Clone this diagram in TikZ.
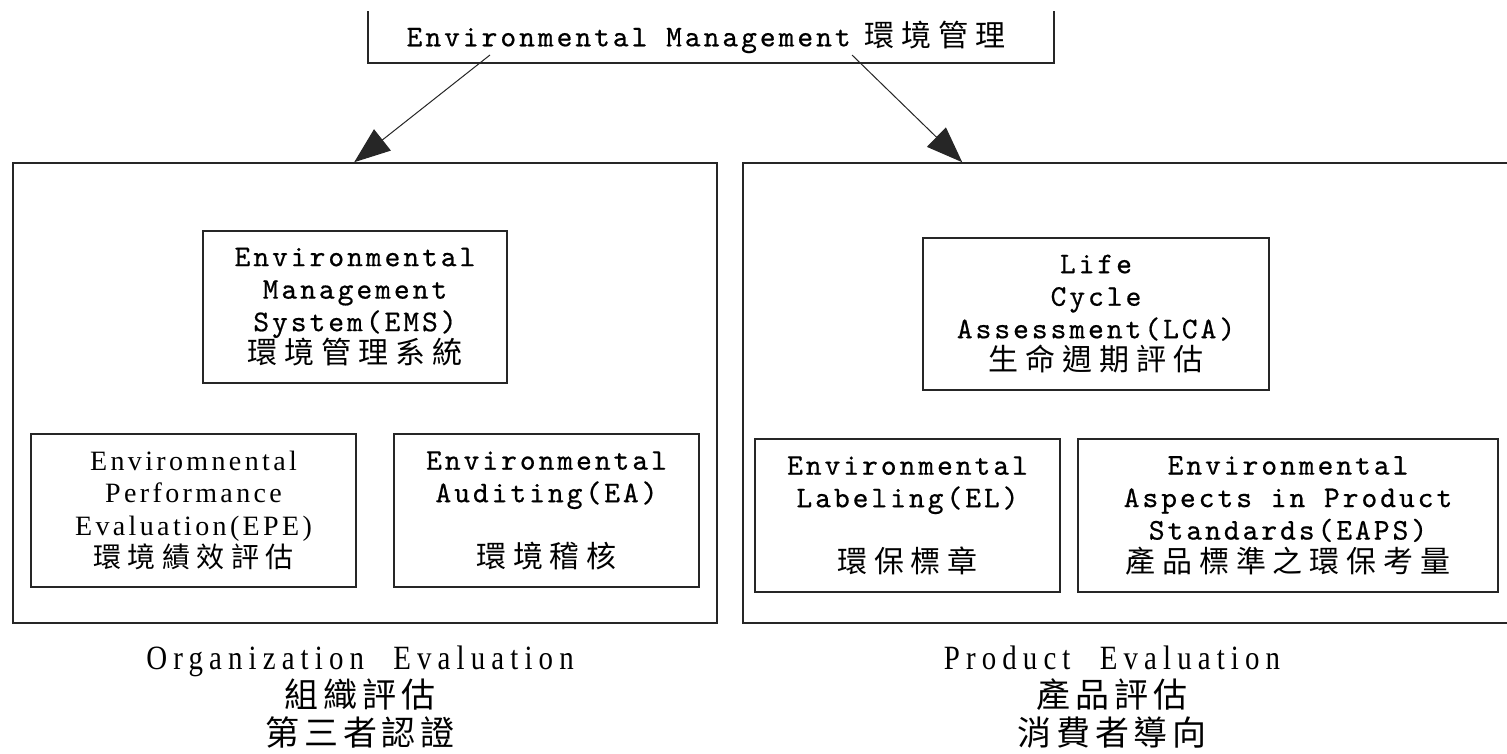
\documentclass[tikz,border=0pt]{standalone}
\usepackage{fontspec}
\usetikzlibrary{arrows.meta,calc}
\newfontfamily\monofam[LetterSpace=10,FakeBold=0.6]{lmmono10-regular.otf}
\newfontfamily\cjkfam[LetterSpace=23]{Noto Sans CJK TC}
\newfontfamily\cjkbfam[LetterSpace=14]{Noto Sans CJK TC}
\newfontfamily\serifam[LetterSpace=12]{Liberation Serif}
\newfontfamily\labfam[FakeStretch=0.85,LetterSpace=18,WordSpace=2.2]{Liberation Serif}
\begin{document}
\begin{tikzpicture}[x=1pt,y=-1pt,
  box/.style={draw=black!85,line width=1.6pt,inner sep=0pt,align=center,
    font=\monofam\fontsize{30}{32.5}\selectfont},
  serifbox/.style={box,font=\serifam\fontsize{28}{32.5}\selectfont},
  conn/.style={draw=black!85,line width=1pt,-{Triangle[length=36pt,width=27pt]}},
  lab/.style={align=center,inner sep=0pt,font=\labfam\fontsize{34}{38}\selectfont}]
\useasboundingbox[fill=white] (0,0) rectangle (1507,754);

% top box (top edge outside the picture)
\node[box,draw=none,minimum width=684pt,minimum height=50pt] (top) at (711,37)
  {Environmental Management\hspace{14pt}{\cjkfam 環境管理}\hspace{10pt}};
\draw[line width=1.6pt,black!85] (top.north west) -- (top.south west) -- (top.south east) -- (top.north east);

% big boxes
\node[box,minimum width=704pt,minimum height=460pt] (org) at (365,393) {};
\node[box,minimum width=790pt,minimum height=460pt] (prod) at (1138,393) {};

% inner boxes
\node[box,minimum width=304pt,minimum height=152pt] (ems) at (355,307)
  {Environmental\\Management\\System(EMS)\\{\cjkfam 環境管理系統}};
\node[serifbox,minimum width=325pt,minimum height=153pt] (epe) at (193.5,510.5)
  {Enviromnental\\Performance\\Evaluation(EPE)\\{\cjkfam 環境績效評估}};
\node[box,minimum width=305pt,minimum height=153pt] (ea) at (546.5,510.5)
  {Environmental\\Auditing(EA)\\[32.5pt]{\cjkfam 環境稽核}};
\node[box,minimum width=346pt,minimum height=152pt] (lca) at (1096,314)
  {Life\\Cycle\\Assessment(LCA)\\{\cjkfam 生命週期評估}};
\node[box,minimum width=305pt,minimum height=153pt] (el) at (907.5,515.5)
  {Environmental\\Labeling(EL)\\[32.5pt]{\cjkfam 環保標章}};
\node[box,minimum width=420pt,minimum height=153pt] (eaps) at (1288,515.5)
  {Environmental\\Aspects in Product\\Standards(EAPS)\\{\cjkfam 產品標準之環保考量}};

% connectors
\coordinate (ls) at (490,55);
\coordinate (rs) at (852,55);
\draw[conn] (ls) -- ([xshift=342pt]org.north west);
\draw[conn] (rs) -- ([xshift=220pt]prod.north west);

% bottom labels
\node[lab] (orgl) at (360,697)
  {Organization Evaluation\\{\cjkbfam 組織評估}\\{\cjkbfam 第三者認證}};
\node[lab] (prodl) at (1112,697)
  {Product Evaluation\\{\cjkbfam 產品評估}\\{\cjkbfam 消費者導向}};
\end{tikzpicture}
\end{document}
